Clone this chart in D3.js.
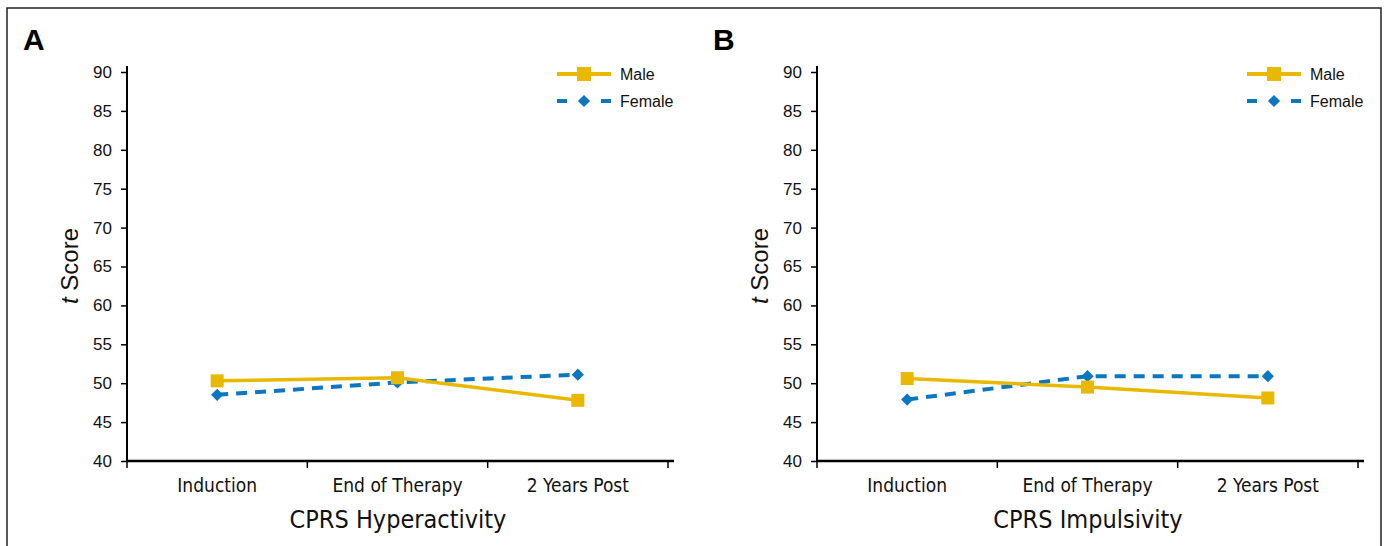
<!DOCTYPE html>
<html>
<head>
<meta charset="utf-8">
<script src="https://cdn.jsdelivr.net/npm/d3@7"></script>
<style>
  body { margin: 0; background: #fff; }
  svg { display: block; }
</style>
</head>
<body>
<div id="chart"></div>
<script>
var phases = ["Induction", "End of Therapy", "2 Years Post"];
var yTicks = [40, 45, 50, 55, 60, 65, 70, 75, 80, 85, 90];

var hyperMale = [50.3, 50.7, 47.8];
var hyperFemale = [48.5, 50.1, 51.1];
var impulsMale = [50.6, 49.5, 48.1];
var impulsFemale = [47.9, 50.9, 50.9];

var panels = [
  {letter: "A", title: "CPRS Hyperactivity", male: hyperMale, female: hyperFemale, left: 127},
  {letter: "B", title: "CPRS Impulsivity", male: impulsMale, female: impulsFemale, left: 817}
];

var w = 1384, h = 546;
var yellow = "#E9B800", blue = "#0A77C0";
var narrow = "'Liberation Sans Narrow', 'DejaVu Sans Condensed', sans-serif";

var svg = d3.select("#chart").append("svg")
    .attr("width", w)
    .attr("height", h);

// frame round the figure
svg.append("path")
    .attr("d", "M7," + h + "V8H1381V" + h)
    .attr("fill", "none")
    .attr("stroke", "#222")
    .attr("stroke-width", 1.5);

var y = d3.scaleLinear().domain([40, 90]).range([461, 72]);

panels.forEach(function(p) {
  var x = d3.scaleBand().domain(phases).range([p.left, p.left + 541]);
  var g = svg.append("g");

  g.append("text")
      .attr("x", p.left - 104)
      .attr("y", 50)
      .attr("font-family", "Liberation Sans, Arial, sans-serif")
      .attr("font-weight", "bold")
      .attr("font-size", 30)
      .text(p.letter);

  // y axis
  var ya = g.append("g")
      .attr("transform", "translate(" + p.left + ",0)")
      .call(d3.axisLeft(y).tickValues(yTicks).tickSize(6).tickPadding(9));
  ya.select(".domain").attr("stroke-width", 2).attr("d", "M0,66V461");
  ya.selectAll(".tick line").attr("stroke-width", 1.5);
  ya.selectAll("text")
      .attr("font-family", "Liberation Sans, Arial, sans-serif")
      .attr("font-size", 17)
      .attr("fill", "#111");

  // x axis
  var xa = g.append("g")
      .attr("transform", "translate(0,461)")
      .call(d3.axisBottom(x).tickSize(0).tickPadding(18));
  xa.select(".domain").attr("stroke-width", 2.5).attr("d", "M" + p.left + ",0H" + (p.left + 547));
  xa.selectAll("text")
      .attr("font-family", narrow)
      .attr("font-size", 19)
      .attr("fill", "#111");
  g.selectAll(".xsep")
      .data([0, 1, 2, 3])
      .enter().append("line")
      .attr("x1", function(i) { return p.left + i * x.step(); })
      .attr("x2", function(i) { return p.left + i * x.step(); })
      .attr("y1", 461)
      .attr("y2", 468)
      .attr("stroke", "#000")
      .attr("stroke-width", 1.5);

  g.append("text")
      .attr("x", p.left + 271)
      .attr("y", 528)
      .attr("text-anchor", "middle")
      .attr("font-family", narrow)
      .attr("font-size", 25)
      .attr("fill", "#111")
      .text(p.title);

  var yl = g.append("text")
      .attr("transform", "translate(" + (p.left - 49) + ",266) rotate(-90)")
      .attr("text-anchor", "middle")
      .attr("font-family", "Liberation Sans, Arial, sans-serif")
      .attr("font-size", 24)
      .attr("fill", "#111");
  yl.append("tspan").attr("font-style", "italic").text("t");
  yl.append("tspan").text(" Score");

  var cx = function(d, i) { return x(phases[i]) + x.bandwidth() / 2; };
  var line = d3.line().x(cx).y(function(d) { return y(d); });

  g.append("path")
      .datum(p.female)
      .attr("d", line)
      .attr("fill", "none")
      .attr("stroke", blue)
      .attr("stroke-width", 4)
      .attr("stroke-dasharray", "11,8");
  g.selectAll(".dia")
      .data(p.female)
      .enter().append("path")
      .attr("d", d3.symbol().type(d3.symbolDiamond2).size(95))
      .attr("transform", function(d, i) { return "translate(" + cx(d, i) + "," + y(d) + ")"; })
      .attr("fill", blue);

  g.append("path")
      .datum(p.male)
      .attr("d", line)
      .attr("fill", "none")
      .attr("stroke", yellow)
      .attr("stroke-width", 3.5);
  g.selectAll(".sq")
      .data(p.male)
      .enter().append("rect")
      .attr("x", function(d, i) { return cx(d, i) - 6.5; })
      .attr("y", function(d) { return y(d) - 6.5; })
      .attr("width", 13)
      .attr("height", 13)
      .attr("fill", yellow);

  // legend
  var lx = p.left + 430;
  var leg = g.append("g");
  leg.append("line")
      .attr("x1", lx).attr("x2", lx + 54)
      .attr("y1", 74).attr("y2", 74)
      .attr("stroke", yellow).attr("stroke-width", 4);
  leg.append("rect")
      .attr("x", lx + 20).attr("y", 67).attr("width", 14).attr("height", 14)
      .attr("fill", yellow);
  leg.append("line")
      .attr("x1", lx).attr("x2", lx + 54)
      .attr("y1", 101).attr("y2", 101)
      .attr("stroke", blue).attr("stroke-width", 4)
      .attr("stroke-dasharray", "10,34,10");
  leg.append("path")
      .attr("d", d3.symbol().type(d3.symbolDiamond2).size(95))
      .attr("transform", "translate(" + (lx + 27) + ",101)")
      .attr("fill", blue);
  leg.selectAll("text")
      .data(["Male", "Female"])
      .enter().append("text")
      .attr("x", lx + 63)
      .attr("y", function(d, i) { return 80 + i * 27; })
      .attr("font-family", "Liberation Sans, Arial, sans-serif")
      .attr("font-size", 16)
      .attr("fill", "#111")
      .text(function(d) { return d; });
});
</script>
</body>
</html>
